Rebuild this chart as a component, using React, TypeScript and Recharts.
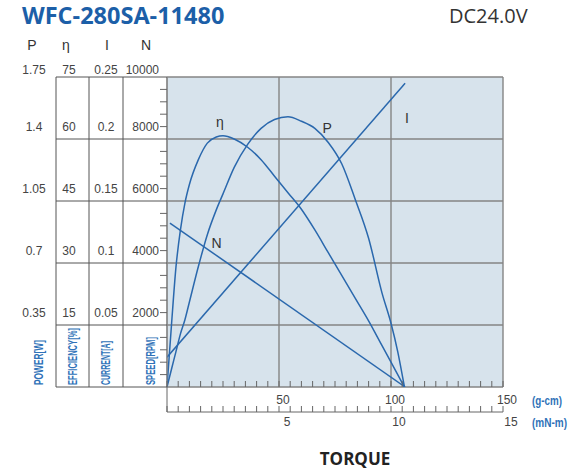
import React from "react";
import {
  ComposedChart,
  Line,
  XAxis,
  YAxis,
  CartesianGrid,
  ReferenceDot,
} from "recharts";

// torque in g-cm
const torque = [0, 2, 4, 6, 8, 10, 14, 18, 22, 25, 30, 36, 42, 48, 54, 60, 66, 72, 78, 84, 90, 96, 100, 103, 106];
const efficiency = [0, 15, 29, 38, 44.5, 49, 55, 59, 60.5, 60.8, 60, 58, 55, 51, 47, 43, 38, 32.5, 27, 21.5, 16, 10, 6, 3, 0];
const power = [0, 0.1, 0.2, 0.3, 0.38, 0.48, 0.68, 0.86, 1.0, 1.09, 1.24, 1.37, 1.46, 1.51, 1.525, 1.5, 1.46, 1.38, 1.26, 1.06, 0.84, 0.53, 0.36, 0.2, 0];

const speedTorque = [1.3, 106.3];
const speed = [5290, 0];
const currentTorque = [0, 106.3];
const current = [0.024, 0.245];

// tick labels of the table on the left
const powerTicks = [0, 0.35, 0.7, 1.05, 1.4, 1.75];
const effTicks = [0, 15, 30, 45, 60, 75];
const currentTicks = [0, 0.05, 0.1, 0.15, 0.2, 0.25];
const speedTicks = [0, 2000, 4000, 6000, 8000, 10000];
const gcmLabels = [50, 100, 150];
const mnmLabels = [5, 10, 15];

const speedMinor = Array.from({ length: 26 }, (_, i) => i * 400);
const gcmMinor = Array.from({ length: 31 }, (_, i) => i * 5);

const mainData = torque.map((t, i) => ({ t, eff: efficiency[i], pow: power[i] }));
const speedData = speedTorque.map((t, i) => ({ t, n: speed[i] }));
const currentData = currentTorque.map((t, i) => ({ t, cur: current[i] }));

const BLUE = "#2a68ad";
const LABEL_BLUE = "#2f72b8";
const TXT = "#444";
const TABLE = "#555";
const NUM_FONT = "'Liberation Sans', Arial, sans-serif";
const NARROW = "'Liberation Sans Narrow', 'Arial Narrow', 'Liberation Sans', sans-serif";

type Col = {
  width: number;
  lines: boolean;
  labelX: number;
  anchor: "start" | "middle" | "end";
  header: string;
  headerX: number;
  side: string;
  sideX: number;
  sideLen: number;
  major: number[];
  minor?: boolean;
};

const colP: Col = { width: 48, lines: false, labelX: -22, anchor: "middle", header: "P", headerX: -24, side: "POWER[W]", sideX: -18, sideLen: 45, major: powerTicks };
const colE: Col = { width: 33, lines: true, labelX: -20, anchor: "middle", header: "η", headerX: -23, side: "EFFICIENCY[%]", sideX: -16.5, sideLen: 57, major: effTicks };
const colI: Col = { width: 34, lines: true, labelX: -17, anchor: "middle", header: "I", headerX: -16, side: "CURRENT[A]", sideX: -18, sideLen: 44, major: currentTicks };
const colN: Col = { width: 44, lines: true, labelX: -8, anchor: "end", header: "N", headerX: -21, side: "SPEED[RPM]", sideX: -17, sideLen: 48, major: speedTicks, minor: true };

function ColumnTick(props: any) {
  const { x, y, payload, col } = props;
  const v = payload.value;
  const idx = col.major.indexOf(v);
  const top = idx === col.major.length - 1;
  return (
    <g>
      {col.minor && idx < 0 && <line x1={x - 7} y1={y} x2={x} y2={y} stroke="#666" />}
      {idx >= 0 && col.lines && <line x1={x - col.width} y1={y} x2={x} y2={y} stroke={TABLE} />}
      {idx > 0 && (
        <text x={x + col.labelX} y={y + (top ? -7 : -12)} textAnchor={col.anchor} dominantBaseline="central" fontSize={12} fill={TXT} fontFamily={NUM_FONT}>
          {String(v)}
        </text>
      )}
      {top && (
        <text x={x + col.headerX} y={y - 32} textAnchor="middle" dominantBaseline="central" fontSize={14} fill="#333" fontFamily={NUM_FONT}>
          {col.header}
        </text>
      )}
      {idx === 0 && (
        <text
          x={x + col.sideX}
          y={y - 2}
          transform={`rotate(-90, ${x + col.sideX}, ${y - 2})`}
          textAnchor="start"
          dominantBaseline="central"
          fontSize={13}
          fontWeight="bold"
          fill={LABEL_BLUE}
          fontFamily={NARROW}
          textLength={col.sideLen}
          lengthAdjust="spacingAndGlyphs"
        >
          {col.side}
        </text>
      )}
    </g>
  );
}

// torque axis: g-cm row on the plot edge, mN-m row 25px below it
function TorqueTick(props: any) {
  const { x, y, payload } = props;
  const v = payload.value;
  const row2 = y + 25;
  const span = typeof props.width === "number" ? props.width : 336;
  const li = gcmLabels.indexOf(v);
  return (
    <g>
      <line x1={x} y1={y - 6} x2={x} y2={y} stroke="#666" />
      <line x1={x} y1={row2 - 6} x2={x} y2={row2} stroke="#666" />
      {v === 0 && <line x1={x} y1={y} x2={x} y2={row2} stroke="#666" />}
      {v === 0 && <line x1={x} y1={row2} x2={x + span} y2={row2} stroke="#666" />}
      {li >= 0 && (
        <text x={x + 4} y={y + 13} textAnchor="middle" dominantBaseline="central" fontSize={12} fill={TXT} fontFamily={NUM_FONT}>
          {v}
        </text>
      )}
      {li >= 0 && (
        <text x={x + 8} y={row2 + 10} textAnchor="middle" dominantBaseline="central" fontSize={12} fill={TXT} fontFamily={NUM_FONT}>
          {mnmLabels[li]}
        </text>
      )}
      {v === 150 && (
        <text x={x + 29} y={y + 13} dominantBaseline="central" fontSize={13} fill={LABEL_BLUE} fontFamily={NARROW} fontWeight="bold" textLength={30} lengthAdjust="spacingAndGlyphs">
          (g-cm)
        </text>
      )}
      {v === 150 && (
        <text x={x + 29} y={row2 + 10} dominantBaseline="central" fontSize={13} fill={LABEL_BLUE} fontFamily={NARROW} fontWeight="bold" textLength={35} lengthAdjust="spacingAndGlyphs">
          (mN-m)
        </text>
      )}
    </g>
  );
}

const curveLabel = (text: string) => ({
  value: text,
  position: "center" as const,
  fontSize: 14,
  fill: "#333",
  fontFamily: NUM_FONT,
});

export default function App() {
  return (
    <div style={{ position: "absolute", left: 0, top: 0, width: 587, height: 470, background: "#fff" }}>
      <ComposedChart width={587} height={470} margin={{ top: 77, right: 84, bottom: 33, left: 8 }}>
        <CartesianGrid
          xAxisId="g"
          yAxisId="a"
          fill="#d7e3ec"
          fillOpacity={1}
          stroke="#858585"
          strokeWidth={1.4}
          verticalValues={[0, 50, 100, 150]}
          horizontalValues={speedTicks}
        />
        <XAxis
          xAxisId="g"
          dataKey="t"
          type="number"
          domain={[0, 150]}
          ticks={gcmMinor}
          interval={0}
          height={50}
          tickSize={0}
          tickMargin={0}
          axisLine={false}
          tick={<TorqueTick />}
          allowDataOverflow
        />
        {/* axis ids sort alphabetically from the plot outward: N, I, η, P */}
        <YAxis yAxisId="a" type="number" domain={[0, 10000]} ticks={speedMinor} interval={0} width={colN.width} tickSize={0} tickMargin={0} axisLine={{ stroke: "#858585" }} tick={(p: any) => <ColumnTick {...p} col={colN} />} allowDataOverflow />
        <YAxis yAxisId="b" type="number" domain={[0, 0.25]} ticks={currentTicks} interval={0} width={colI.width} tickSize={0} tickMargin={0} axisLine={{ stroke: TABLE }} tick={(p: any) => <ColumnTick {...p} col={colI} />} allowDataOverflow />
        <YAxis yAxisId="c" type="number" domain={[0, 75]} ticks={effTicks} interval={0} width={colE.width} tickSize={0} tickMargin={0} axisLine={{ stroke: TABLE }} tick={(p: any) => <ColumnTick {...p} col={colE} />} allowDataOverflow />
        <YAxis yAxisId="d" type="number" domain={[0, 1.75]} ticks={powerTicks} interval={0} width={colP.width} tickSize={0} tickMargin={0} axisLine={{ stroke: TABLE }} tick={(p: any) => <ColumnTick {...p} col={colP} />} allowDataOverflow />

        <Line data={mainData} xAxisId="g" yAxisId="c" dataKey="eff" type="monotone" stroke={BLUE} strokeWidth={1.5} dot={false} isAnimationActive={false} />
        <Line data={mainData} xAxisId="g" yAxisId="d" dataKey="pow" type="monotone" stroke={BLUE} strokeWidth={1.5} dot={false} isAnimationActive={false} />
        <Line data={speedData} xAxisId="g" yAxisId="a" dataKey="n" type="linear" stroke={BLUE} strokeWidth={1.5} dot={false} isAnimationActive={false} />
        <Line data={currentData} xAxisId="g" yAxisId="b" dataKey="cur" type="linear" stroke={BLUE} strokeWidth={1.5} dot={false} isAnimationActive={false} />

        <ReferenceDot xAxisId="g" yAxisId="c" x={23.6} y={64} r={1} fill="none" stroke="none" label={curveLabel("η")} />
        <ReferenceDot xAxisId="g" yAxisId="d" x={71.5} y={1.46} r={1} fill="none" stroke="none" label={curveLabel("P")} />
        <ReferenceDot xAxisId="g" yAxisId="b" x={107.1} y={0.217} r={1} fill="none" stroke="none" label={curveLabel("I")} />
        <ReferenceDot xAxisId="g" yAxisId="a" x={22.1} y={4635} r={1} fill="none" stroke="none" label={curveLabel("N")} />
      </ComposedChart>
      <div style={{ position: "absolute", left: 22, top: 1, fontFamily: "'Open Sans', sans-serif", fontWeight: 700, fontSize: 23.5, lineHeight: "28px", color: "#1c5fa8" }}>
        WFC-280SA-11480
      </div>
      <div style={{ position: "absolute", left: 449, top: 3, fontFamily: "'Open Sans', sans-serif", fontSize: 20, lineHeight: "26px", color: "#333" }}>
        DC24.0V
      </div>
      <div style={{ position: "absolute", left: 255, width: 200, top: 449, textAlign: "center", fontFamily: "'Open Sans', sans-serif", fontWeight: 700, fontSize: 17, lineHeight: "20px", color: "#222" }}>
        TORQUE
      </div>
    </div>
  );
}
